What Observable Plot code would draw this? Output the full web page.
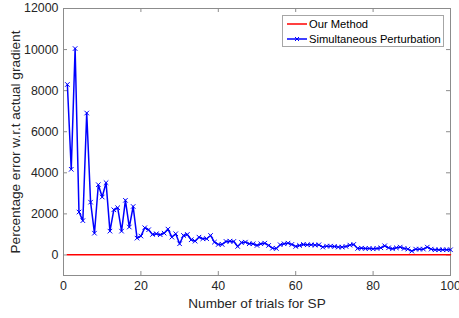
<!DOCTYPE html>
<html>
<head>
<meta charset="utf-8">
<script src="https://cdn.jsdelivr.net/npm/d3@7"></script>
<script src="https://cdn.jsdelivr.net/npm/@observablehq/plot@0.6"></script>
<style>
  html, body { margin: 0; padding: 0; background: #fff; }
  #wrap { position: relative; width: 459px; height: 318px; overflow: hidden; font-family: "Liberation Sans", Arial, sans-serif; }
  #legend { position: absolute; left: 282px; top: 15px; width: 162px; height: 32px; border: 1px solid #a6a6a6; background: #fff; box-sizing: border-box; font-size: 11.2px; color: #000; }
  .row { position: absolute; left: 4px; height: 14px; display: flex; align-items: center; }
  .row svg { margin-right: 2px; }
</style>
</head>
<body>
<div id="wrap"></div>
<script>
// Data
const trials = [1,2,3,4,5,6,7,8,9,10,11,12,13,14,15,16,17,18,19,20,21,22,23,24,25,26,27,28,29,30,31,32,33,34,35,36,37,38,39,40,41,42,43,44,45,46,47,48,49,50,51,52,53,54,55,56,57,58,59,60,61,62,63,64,65,66,67,68,69,70,71,72,73,74,75,76,77,78,79,80,81,82,83,84,85,86,87,88,89,90,91,92,93,94,95,96,97,98,99,100];
const spError = [8300,4170,10050,2090,1670,6910,2570,1060,3420,2820,3520,1160,2200,2300,1160,2660,1360,2360,820,920,
  1325,1228,999,1033,984,1062,1257,867,1033,545,950,999,740,673,867,789,789,950,624,512,
  512,658,673,658,414,609,624,545,545,463,545,575,463,331,316,497,545,575,512,414,
  463,512,495,495,479,495,382,430,430,414,382,382,414,479,512,317,333,317,317,300,
  317,349,447,349,300,349,382,317,284,187,284,284,284,382,284,252,252,252,252,252];
const ourError = [10,10,10,10,10,10,10,10,10,10,10,10,10,10,10,10,10,10,10,10,
  10,10,10,10,10,10,10,10,10,10,10,10,10,10,10,10,10,10,10,10,
  10,10,10,10,10,10,10,10,10,10,10,10,10,10,10,10,10,10,10,10,
  10,10,10,10,10,10,10,10,10,10,10,10,10,10,10,10,10,10,10,10,
  10,10,10,10,10,10,10,10,10,10,10,10,10,10,10,10,10,10,10,10];
const xTicks = [0,20,40,60,80,100];
const yTicks = [0,2000,4000,6000,8000,10000,12000];
const seriesNames = ["Our Method", "Simultaneous Perturbation"];
const xLabel = "Number of trials for SP";
const yLabel = "Percentage error w.r.t actual gradient";

const sp = trials.map((t, i) => ({trial: t, value: spError[i]}));
const ours = trials.map((t, i) => ({trial: t, value: ourError[i]}));

const xDomain = [0, 100], yDomain = [-1000, 12000];
const W = 459, H = 318, mL = 63, mR = 9, mT = 8, mB = 43;
const tickPx = 4;
const xTickLen = tickPx * (xDomain[1] - xDomain[0]) / (W - mL - mR);
const yTickLen = tickPx * (yDomain[1] - yDomain[0]) / (H - mT - mB);
const axisGray = "#262626";
const boxGray = "#8c8c8c";

const chart = Plot.plot({
  width: W, height: H,
  marginLeft: mL, marginRight: mR, marginTop: mT, marginBottom: mB,
  style: {fontFamily: "'Liberation Sans', Arial, sans-serif", fontSize: "12.4px", color: axisGray, background: "#fff", overflow: "hidden"},
  x: {domain: xDomain},
  y: {domain: yDomain},
  marks: [
    Plot.frame({stroke: boxGray, strokeWidth: 1}),
    // inward ticks bottom/top
    Plot.ruleX(xTicks, {x: d => d, y1: yDomain[0], y2: yDomain[0] + yTickLen, stroke: boxGray}),
    Plot.ruleX(xTicks, {x: d => d, y1: yDomain[1], y2: yDomain[1] - yTickLen, stroke: boxGray}),
    // inward ticks left/right
    Plot.ruleY(yTicks, {y: d => d, x1: xDomain[0], x2: xDomain[0] + xTickLen, stroke: boxGray}),
    Plot.ruleY(yTicks, {y: d => d, x1: xDomain[1], x2: xDomain[1] - xTickLen, stroke: boxGray}),
    Plot.axisX(xTicks, {tickSize: 0, tickPadding: 6, label: null, fill: axisGray, fontSize: 12.4}),
    Plot.axisY(yTicks, {tickSize: 0, tickPadding: 5, label: null, fill: axisGray, fontSize: 12.4, tickFormat: d => String(d)}),
    Plot.lineY(ours, {x: "trial", y: "value", stroke: "#ff0000", strokeWidth: 1.5}),
    Plot.lineY(sp, {x: "trial", y: "value", stroke: "#0000ff", strokeWidth: 1.5}),
    Plot.dot(sp, {x: "trial", y: "value", symbol: "times", r: 2.2, stroke: "#0000ff", strokeWidth: 1}),
    Plot.text([xLabel], {frameAnchor: "bottom", dy: 28, text: d => d, fontSize: 13.6, fill: axisGray, lineAnchor: "middle", textAnchor: "middle"}),
    Plot.text([yLabel], {frameAnchor: "left", dx: -48, rotate: -90, text: d => d, fontSize: 13.6, fill: axisGray, lineAnchor: "middle", textAnchor: "middle"})
  ]
});

const wrap = document.getElementById("wrap");
wrap.appendChild(chart);

// Legend (inside axes, top-right)
const legend = document.createElement("div");
legend.id = "legend";
const colors = ["#ff0000", "#0000ff"];
seriesNames.forEach((name, i) => {
  const row = document.createElement("div");
  row.className = "row";
  row.style.top = (1 + i * 15) + "px";
  const s = d3.create("svg").attr("width", 20).attr("height", 10);
  s.append("line").attr("x1", 0).attr("x2", 20).attr("y1", 5).attr("y2", 5).attr("stroke", colors[i]).attr("stroke-width", 1.5);
  if (i === 1) {
    s.append("path").attr("d", "M8,3L12,7M12,3L8,7").attr("stroke", colors[i]).attr("stroke-width", 1);
  }
  row.appendChild(s.node());
  const t = document.createElement("span");
  t.textContent = name;
  row.appendChild(t);
  legend.appendChild(row);
});
wrap.appendChild(legend);
</script>
</body>
</html>
